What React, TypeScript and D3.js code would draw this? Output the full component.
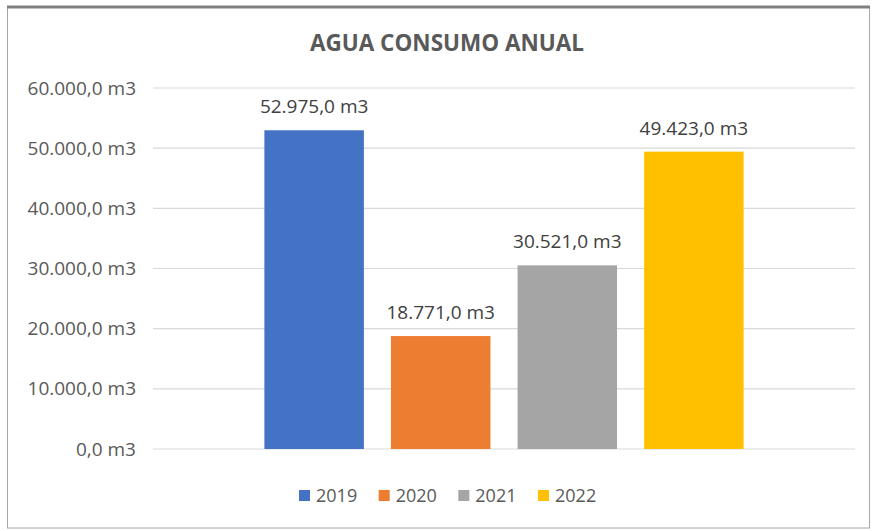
import React from "react";
import * as d3 from "d3";

const series = ["2019", "2020", "2021", "2022"];
const values = [52975, 18771, 30521, 49423];
const colors = ["#4472C4", "#ED7D31", "#A5A5A5", "#FFC000"];
const yTicks = [0, 10000, 20000, 30000, 40000, 50000, 60000];
const title = "AGUA CONSUMO ANUAL";

const W = 872;
const H = 531;
const plot = { left: 153, right: 855, top: 88, bottom: 449 };

const fmt = (v: number) => {
  const s = d3.format(",.1f")(v);
  return s.replace(/,/g, "#").replace(/\./g, ",").replace(/#/g, ".") + " m3";
};

export default function App() {
  const y = d3.scaleLinear().domain([0, 60000]).range([plot.bottom, plot.top]);
  const x = d3
    .scaleBand<string>()
    .domain(series)
    .range([plot.left, plot.right])
    .paddingInner(0.214)
    .paddingOuter(0.88);
  const font = "'Open Sans', Calibri, sans-serif";
  const legendX = d3.scalePoint<string>().domain(series).range([299, 538]);
  return (
    <svg
      width={W}
      height={H}
      style={{ position: "absolute", left: 0, top: 0, background: "#fff" }}
      fontFamily={font}
    >
      <rect x={7.5} y={6.5} width={862} height={521.5} fill="#fff" stroke="#a6a6a6" strokeWidth={1} />
      <line x1={7} x2={870} y1={7} y2={7} stroke="#7f7f7f" strokeWidth={3} />
      <text x={447} y={51} textAnchor="middle" fontSize={22.5} fontWeight={700} fill="#595959">
        {title}
      </text>
      {yTicks.map((t) => (
        <g key={t}>
          <line x1={plot.left} x2={plot.right} y1={y(t)} y2={y(t)} stroke="#d9d9d9" strokeWidth={1.2} />
          <text x={136} y={y(t)} dy="0.35em" textAnchor="end" fontSize={19} fill="#595959">
            {fmt(t)}
          </text>
        </g>
      ))}
      {series.map((s, i) => (
        <g key={s}>
          <rect
            x={x(s)}
            y={y(values[i])}
            width={x.bandwidth()}
            height={plot.bottom - y(values[i])}
            fill={colors[i]}
          />
          <text
            x={(x(s) as number) + x.bandwidth() / 2}
            y={y(values[i]) - 17}
            textAnchor="middle"
            fontSize={19}
            fill="#404040"
          >
            {fmt(values[i])}
          </text>
        </g>
      ))}
      {series.map((s, i) => (
        <g key={"lg" + s}>
          <rect x={legendX(s)} y={490} width={11} height={11} fill={colors[i]} />
          <text x={(legendX(s) as number) + 17} y={496} dy="0.35em" fontSize={18} fill="#595959">
            {s}
          </text>
        </g>
      ))}
    </svg>
  );
}
